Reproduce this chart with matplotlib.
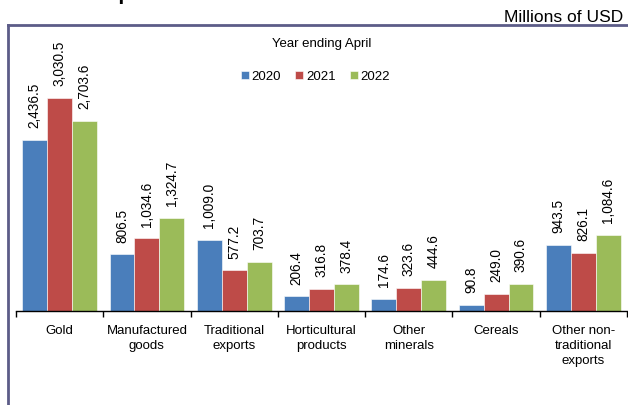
import numpy as np
import matplotlib
matplotlib.use("Agg")
import matplotlib.pyplot as plt
from matplotlib.lines import Line2D

plt.rcParams['font.family'] = ['Liberation Sans', 'DejaVu Sans']

categories = ["Gold", "Manufactured\ngoods", "Traditional\nexports",
              "Horticultural\nproducts", "Other\nminerals", "Cereals",
              "Other non-\ntraditional\nexports"]
years = ["2020", "2021", "2022"]
v2020 = [2436.5, 806.5, 1009.0, 206.4, 174.6, 90.8, 943.5]
v2021 = [3030.5, 1034.6, 577.2, 316.8, 323.6, 249.0, 826.1]
v2022 = [2703.6, 1324.7, 703.7, 378.4, 444.6, 390.6, 1084.6]
colors = ["#4a7ebb", "#be4b48", "#9bbb59"]

fig = plt.figure(figsize=(6.28, 4.05), dpi=100)
ax = fig.add_axes([16/628, 94/405, 611/628, 267/405])

x = np.arange(len(categories))
w = 0.285
for i, (vals, c, yr) in enumerate(zip([v2020, v2021, v2022], colors, years)):
    bars = ax.bar(x + (i - 1) * w, vals, width=w, color=c, label=yr,
                  edgecolor="white", linewidth=0.4)
    for b, v in zip(bars, vals):
        ax.annotate(f"{v:,.1f}", (b.get_x() + b.get_width() / 2, v),
                    xytext=(0, 8.5), textcoords="offset points",
                    rotation=90, ha="center", va="bottom", fontsize=9.8)

ax.set_xlim(-0.5, len(categories) - 0.5)
ax.set_ylim(0, 3800)
ax.set_yticks([])
for s in ["left", "right", "top"]:
    ax.spines[s].set_visible(False)
ax.spines["bottom"].set_linewidth(1.0)

ax.set_xticks(x)
ax.set_xticklabels(categories, fontsize=9.5, linespacing=1.35)
ax.tick_params(axis="x", which="major", length=0, pad=10)
ax.set_xticks(np.arange(-0.5, len(categories)), minor=True)
ax.tick_params(axis="x", which="minor", length=4, width=1, direction="out")

ax.text(0.5, 1.0, "Year ending April", transform=ax.transAxes,
        ha="center", va="center", fontsize=9.5)
ax.legend(loc="center", bbox_to_anchor=(0.49, 0.877), ncol=3, frameon=False,
          fontsize=9.5, handlelength=0.6, handleheight=0.6,
          handletextpad=0.2, columnspacing=1.1)

# frame and header
frame_c = "#5c5c88"
fig.add_artist(Line2D([8/628, 8/628], [0, 1 - 25/405], color=frame_c, lw=2))
fig.add_artist(Line2D([8/628, 1], [1 - 25/405, 1 - 25/405], color=frame_c, lw=2))
fig.text(623/628, 1 - 18/405, "Millions of USD", ha="right", va="center",
         fontsize=12.5)
fig.text(8/628, 1.0, "Chart 1: Exports of Goods", ha="left",
         va="baseline", fontsize=15, fontweight="bold")

fig.savefig("out.png", dpi=100)
